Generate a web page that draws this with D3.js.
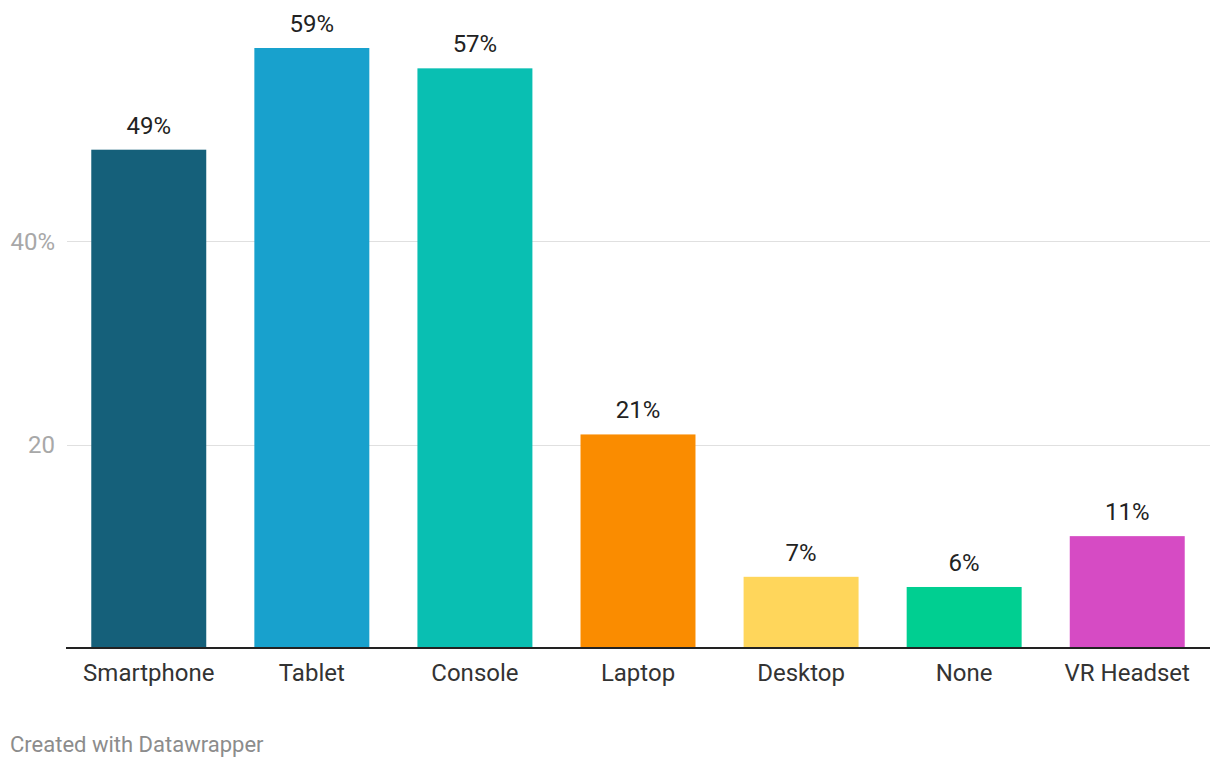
<!DOCTYPE html>
<html>
<head>
<meta charset="utf-8">
<script src="https://cdn.jsdelivr.net/npm/d3@7"></script>
<style>
  body { margin: 0; background: #fff; font-family: Roboto, sans-serif; }
  .grid line { stroke: #e0e0e0; stroke-width: 1; }
  .ytick { fill: #a8a8a8; font-size: 24px; }
  .xlabel { fill: #333; font-size: 24px; }
  .value { fill: #222; font-size: 24px; }
  .footer { fill: #8c8c8c; font-size: 22px; }
</style>
</head>
<body>
<script>
// Data
var categories = ["Smartphone", "Tablet", "Console", "Laptop", "Desktop", "None", "VR Headset"];
var values = [49, 59, 57, 21, 7, 6, 11];
var colors = ["#15607a", "#18a1cd", "#09bfb2", "#fa8c00", "#ffd65b", "#00cf91", "#d64bc4"];
var yTicks = [20, 40];

var width = 1220, height = 768;

var svg = d3.select("body")
    .append("svg")
    .attr("width", width)
    .attr("height", height);

// Scales
var x = d3.scaleBand()
    .domain(categories)
    .range([66, 1210])
    .paddingInner(0.295)
    .paddingOuter(0.155);

var y = d3.scaleLinear()
    .domain([0, 59])
    .range([648, 48]);

// Gridlines
var grid = svg.append("g").attr("class", "grid");
grid.selectAll("line")
    .data(yTicks)
    .enter().append("line")
    .attr("x1", 67)
    .attr("x2", 1210)
    .attr("y1", function(d) { return Math.round(y(d)) + 0.5; })
    .attr("y2", function(d) { return Math.round(y(d)) + 0.5; });

svg.selectAll(".ytick")
    .data(yTicks)
    .enter().append("text")
    .attr("class", "ytick")
    .attr("x", 55)
    .attr("y", function(d) { return y(d); })
    .attr("dy", "0.35em")
    .attr("text-anchor", "end")
    .text(function(d, i) { return i === yTicks.length - 1 ? d + "%" : d; });

// Bars
var data = categories.map(function(c, i) { return {cat: c, val: values[i], color: colors[i]}; });

svg.selectAll(".bar")
    .data(data)
    .enter().append("rect")
    .attr("class", "bar")
    .attr("x", function(d) { return x(d.cat); })
    .attr("width", x.bandwidth())
    .attr("y", function(d) { return y(d.val); })
    .attr("height", function(d) { return y(0) - y(d.val); })
    .attr("fill", function(d) { return d.color; });

svg.selectAll(".value")
    .data(data)
    .enter().append("text")
    .attr("class", "value")
    .attr("x", function(d) { return x(d.cat) + x.bandwidth() / 2; })
    .attr("y", function(d) { return y(d.val) - 16; })
    .attr("text-anchor", "middle")
    .text(function(d) { return d.val + "%"; });

// Baseline
svg.append("line")
    .attr("x1", 66)
    .attr("x2", 1210)
    .attr("y1", y(0))
    .attr("y2", y(0))
    .attr("stroke", "#222")
    .attr("stroke-width", 2);

svg.selectAll(".xlabel")
    .data(categories)
    .enter().append("text")
    .attr("class", "xlabel")
    .attr("x", function(d) { return x(d) + x.bandwidth() / 2; })
    .attr("y", 681)
    .attr("text-anchor", "middle")
    .text(function(d) { return d; });

svg.append("text")
    .attr("class", "footer")
    .attr("x", 10)
    .attr("y", 752)
    .text("Created with Datawrapper");
</script>
</body>
</html>
